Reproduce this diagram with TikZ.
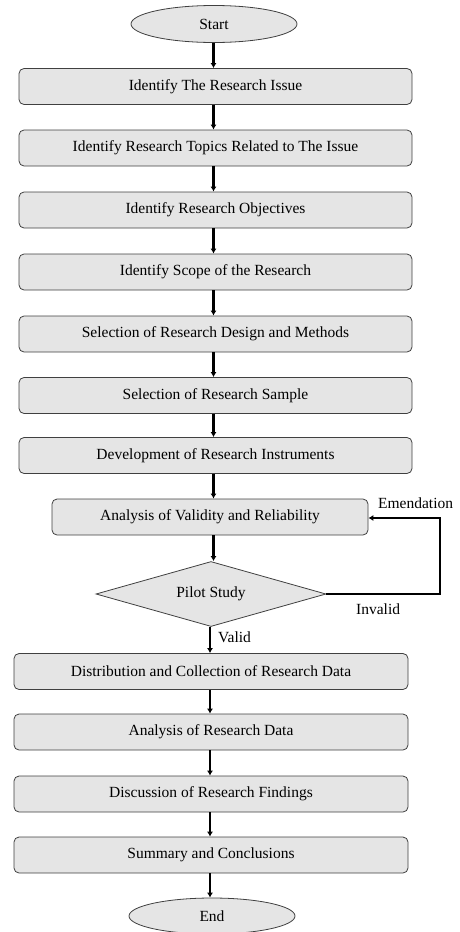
\documentclass[tikz,border=0pt]{standalone}
\usepackage{fontspec}
\setmainfont{Liberation Serif}
\usetikzlibrary{shapes.geometric,arrows.meta}
\begin{document}
\begin{tikzpicture}[x=1pt,y=-1pt,
  txt/.style={font=\fontsize{15.5}{18}\selectfont},
  stepbox/.style={txt,draw=black!75,line width=0.8pt,fill=black!10,rounded corners=5pt,minimum height=36pt,inner sep=0pt},
  term/.style={txt,ellipse,draw=black!75,line width=0.8pt,fill=black!10,minimum width=166pt,minimum height=37pt,inner sep=0pt},
  dia/.style={txt,diamond,draw=black!75,line width=0.8pt,fill=black!10,minimum width=230pt,minimum height=65pt,aspect=3.5,inner sep=0pt},
  flow/.style={line width=2.2pt,-{Latex[length=5pt,width=6pt]}},
  lbl/.style={txt,inner sep=0pt}]
\useasboundingbox (0,0) rectangle (459,932);
\node[term] (start) at (214,24) {Start};
\node[stepbox,minimum width=393pt] (b1) at (215.5,86.5) {Identify The Research Issue};
\node[stepbox,minimum width=393pt] (b2) at (215.5,148) {Identify Research Topics Related to The Issue};
\node[stepbox,minimum width=393pt] (b3) at (215.5,210) {Identify Research Objectives};
\node[stepbox,minimum width=393pt] (b4) at (215.5,272) {Identify Scope of the Research};
\node[stepbox,minimum width=393pt] (b5) at (215.5,334) {Selection of Research Design and Methods};
\node[stepbox,minimum width=393pt] (b6) at (215.5,395.5) {Selection of Research Sample};
\node[stepbox,minimum width=393pt] (b7) at (215.5,455.5) {Development of Research Instruments};
\node[stepbox,minimum width=316pt] (b8) at (210,517) {Analysis of Validity and Reliability};
\node[dia] (d) at (211,594) {Pilot Study};
\node[stepbox,minimum width=394pt] (b9) at (211,671.5) {Distribution and Collection of Research Data};
\node[stepbox,minimum width=394pt] (b10) at (211,732) {Analysis of Research Data};
\node[stepbox,minimum width=394pt] (b11) at (211,794) {Discussion of Research Findings};
\node[stepbox,minimum width=394pt] (b12) at (211,855) {Summary and Conclusions};
\node[term,minimum height=36pt] (end) at (212,916) {End};
\coordinate (xa) at (213.5,0);
\coordinate (xb) at (210,0);
\draw[flow] (start.south -| xa) -- (b1.north -| xa);
\draw[flow] (b1.south -| xa) -- (b2.north -| xa);
\draw[flow] (b2.south -| xa) -- (b3.north -| xa);
\draw[flow] (b3.south -| xa) -- (b4.north -| xa);
\draw[flow] (b4.south -| xa) -- (b5.north -| xa);
\draw[flow] (b5.south -| xa) -- (b6.north -| xa);
\draw[flow] (b6.south -| xa) -- (b7.north -| xa);
\draw[flow] (b7.south -| xa) -- (b8.north -| xa);
\draw[flow] (b8.south -| xa) -- (d.north -| xa);
\draw[flow] (d.south -| xb) -- (b9.north -| xb);
\draw[flow] (b9.south -| xb) -- (b10.north -| xb);
\draw[flow] (b10.south -| xb) -- (b11.north -| xb);
\draw[flow] (b11.south -| xb) -- (b12.north -| xb);
\draw[flow] (b12.south -| xb) -- (end.north -| xb);
\coordinate (c1) at (440,594);
\coordinate (c2) at (440,518);
\draw[flow,line width=2pt] (d.east) -- (c1) -- (c2) -- (b8.east |- c2);
\node[lbl,anchor=west] (em) at (378,503) {Emendation};
\node[lbl,anchor=west] (inv) at (356,609) {Invalid};
\node[lbl,anchor=west] (val) at (218,637) {Valid};
\end{tikzpicture}
\end{document}
